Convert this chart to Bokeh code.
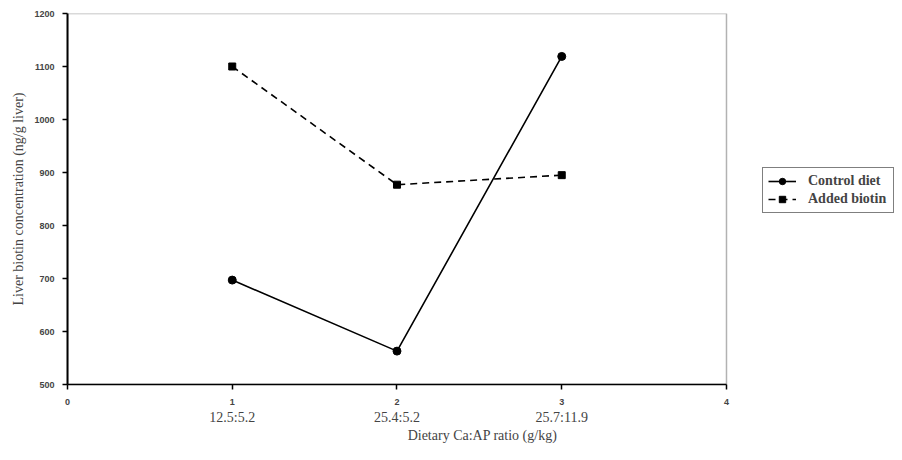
from bokeh.plotting import figure
from bokeh.models import LinearAxis, FixedTicker, Range1d, Legend, LegendItem, BoxAnnotation
from bokeh.embed import file_html
from bokeh.resources import INLINE

x_positions = [1, 2, 3]
ratio_labels = ["12.5:5.2", "25.4:5.2", "25.7:11.9"]
control_diet = [697, 563, 1119]
added_biotin = [1100, 877, 895]
x_ticks = [0, 1, 2, 3, 4]
y_ticks = [500, 600, 700, 800, 900, 1000, 1100, 1200]
x_min, x_max = 0, 4
y_min, y_max = 500, 1200

# frame extended to the right so the legend (outside the drawn box) is not clipped
p = figure(width=899, height=450, output_backend="svg", toolbar_location=None,
           x_range=Range1d(x_min, 5.038), y_range=Range1d(y_min, y_max),
           min_border_left=67, min_border_right=2, min_border_top=13,
           min_border_bottom=66)
p.xgrid.visible = False
p.ygrid.visible = False
p.outline_line_color = None
p.background_fill_color = "white"
p.border_fill_color = "white"

box = BoxAnnotation(left=x_min, right=x_max, bottom=y_min, top=y_max,
                    fill_alpha=0, line_color="black", line_width=1.5)
p.add_layout(box)

# numeric x axis
xa = p.xaxis[0]
xa.ticker = FixedTicker(ticks=x_ticks)
xa.bounds = (x_min, x_max)
xa.minor_tick_line_color = None
xa.major_tick_in = 0
xa.major_tick_out = 5
xa.axis_line_width = 1.5
xa.major_tick_line_width = 1.5
xa.major_label_text_font = "Liberation Sans"
xa.major_label_text_font_style = "bold"
xa.major_label_text_font_size = "9px"
xa.major_label_standoff = 9

# category axis
ca = LinearAxis(ticker=FixedTicker(ticks=x_positions),
                major_label_overrides={x: l for x, l in zip(x_positions, ratio_labels)})
ca.bounds = (x_min, x_max)
ca.axis_line_color = None
ca.major_tick_line_color = None
ca.minor_tick_line_color = None
ca.major_tick_out = 0
ca.major_tick_in = 0
ca.major_label_standoff = 2
ca.major_label_text_font = "Liberation Serif"
ca.major_label_text_font_size = "14px"
ca.axis_label = "Dietary Ca:AP ratio (g/kg)"
ca.axis_label_text_font = "Liberation Serif"
ca.axis_label_text_font_size = "14px"
ca.axis_label_text_font_style = "normal"
ca.axis_label_standoff = 0
p.add_layout(ca, "below")

ya = p.yaxis[0]
ya.ticker = FixedTicker(ticks=y_ticks)
ya.minor_tick_line_color = None
ya.major_tick_in = 0
ya.major_tick_out = 5
ya.axis_line_width = 2
ya.major_tick_line_width = 1.5
ya.major_label_text_font = "Liberation Sans"
ya.major_label_text_font_style = "bold"
ya.major_label_text_font_size = "9px"
ya.major_label_standoff = 8
ya.axis_label = "Liver biotin concentration (ng/g liver)"
ya.axis_label_text_font = "Liberation Serif"
ya.axis_label_text_font_size = "14px"
ya.axis_label_text_font_style = "normal"
ya.axis_label_standoff = 5

l1 = p.line(x_positions, control_diet, line_color="black", line_width=1.6)
s1 = p.scatter(x_positions, control_diet, marker="circle", size=8,
               fill_color="black", line_color="black")
l2 = p.line(x_positions, added_biotin, line_color="black", line_width=1.6,
            line_dash="7 5")
s2 = p.scatter(x_positions, added_biotin, marker="square", size=7,
               fill_color="black", line_color="black")

legend = Legend(items=[LegendItem(label="Control diet", renderers=[l1, s1]),
                       LegendItem(label="Added biotin", renderers=[l2, s2])],
                location=(695, 171))
legend.label_text_font = "Liberation Serif"
legend.label_text_font_style = "bold"
legend.label_text_font_size = "14px"
legend.label_height = 16
legend.label_width = 80
legend.border_line_color = "black"
legend.border_line_width = 1
legend.glyph_width = 28
legend.glyph_height = 16
legend.spacing = 2
legend.padding = 5
legend.margin = 0
legend.label_standoff = 12
legend.background_fill_color = "white"
p.add_layout(legend, "center")

open("out.html", "w").write(file_html(p, INLINE))
